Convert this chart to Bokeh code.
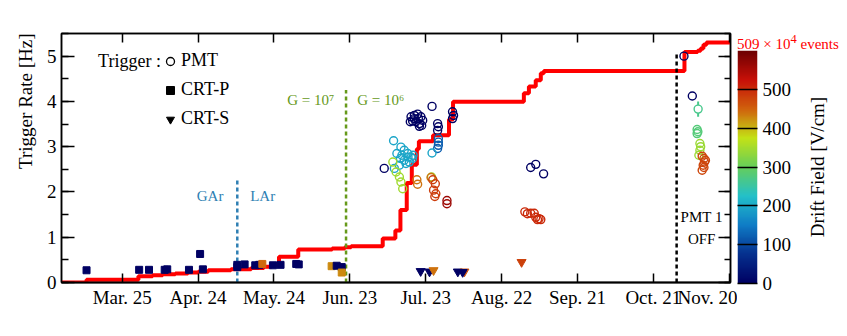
import math
import numpy as np
from bokeh.plotting import figure
from bokeh.layouts import row, column
from bokeh.models import (FixedTicker, SingleIntervalTicker, LinearAxis, LinearColorMapper,
                          ColumnDataSource, Label, Legend, LegendItem, Div,
                          CustomLabelingPolicy)
from bokeh.embed import file_html
from bokeh.resources import INLINE

# ---------------- data ----------------
# x axis: days counted from Mar. 1
tick_days = [24, 54, 84, 114, 144, 174, 204, 234, 264]
tick_labels = ["Mar. 25", "Apr. 24", "May. 24", "Jun. 23", "Jul. 23",
               "Aug. 22", "Sep. 21", "Oct. 21", "Nov. 20"]

# cumulative number of events (scaled onto the rate axis, 509e4 events at the end)
cum_day = [0, 9.9, 30.4, 36, 40, 45, 50, 54, 58, 67, 75, 80, 83, 86, 93.6, 107, 112,
           114.5, 127, 132, 134, 136.5, 138.5, 140.5, 141.3, 146.9, 153.2, 154.8,
           182.8, 184.8, 187.5, 189.5, 190.7, 246.3, 251.5, 252.7, 253.8, 255, 264.5]
cum_val = [0.0, 0.06, 0.14, 0.16, 0.18, 0.20, 0.22, 0.24, 0.27, 0.29, 0.32, 0.35, 0.38,
           0.57, 0.73, 0.75, 0.78, 0.80, 0.97, 1.15, 1.60, 2.20, 2.60, 2.95, 3.12, 3.25,
           3.60, 3.99, 4.18, 4.33, 4.47, 4.62, 4.67, 5.09, 5.12, 5.17, 5.25, 5.30, 5.30]
total_events_label = "509 \u00d7 10<sup>4</sup> events"

# PMT trigger (open circles): day, rate [Hz], drift field [V/cm]
pmt_day = [127.6,
           138.2, 139.5, 140.8, 142.1, 142.8, 141.5, 140.1, 138.8, 137.9, 139.5, 141.1, 142.4, 141.5,
           146.5, 148.7, 149.0, 148.7, 154.6, 155.0, 154.6,
           185.5, 187.5, 190.6, 246.1, 249.4,
           149.0, 149.0, 149.0, 148.7,
           146.5, 131.3, 134.2, 135.5, 136.9, 138.2, 137.5, 135.5, 134.0, 132.6, 131.6, 133.6,
           136.2, 138.8, 134.6, 137.0, 139.0,
           131.0, 132.3, 133.6, 134.2, 134.9, 146.3,
           140.5, 140.8, 146.1,
           146.8, 147.8, 147.1, 148.0, 147.6,
           152.4, 152.4,
           183.2, 184.2, 185.5, 186.9, 187.5, 188.8, 189.5, 188.2,
           251.3, 251.6, 251.3,
           252.4, 252.7, 252.4, 252.0,
           253.3, 254.0, 254.2, 253.7, 253.3, 254.0, 254.6]
pmt_rate = [2.52,
            3.66, 3.69, 3.72, 3.66, 3.58, 3.51, 3.55, 3.57, 3.55, 3.62, 3.62, 3.47, 3.45,
            3.89, 3.51, 3.44, 3.36, 3.77, 3.69, 3.62,
            2.54, 2.61, 2.40, 5.00, 4.12,
            3.18, 3.10, 3.03, 2.96,
            2.86, 3.13, 2.99, 2.92, 2.85, 2.77, 2.66, 2.70, 2.74, 2.85, 2.52, 2.59,
            2.63, 2.74, 2.81, 2.77, 2.81,
            2.66, 2.44, 2.33, 2.22, 2.07, 2.33,
            2.27, 2.17, 2.32,
            2.27, 2.18, 2.04, 1.96, 1.90,
            1.81, 1.74,
            1.56, 1.52, 1.53, 1.53, 1.44, 1.41, 1.39, 1.39,
            3.38, 3.33, 3.29,
            3.07, 3.00, 2.92, 2.81,
            2.79, 2.74, 2.66, 2.59, 2.48, 2.54, 2.70]
pmt_field = [0] * 26 + [120] * 4 + [195] * 17 + [345] * 6 + [440] * 3 + [485] * 5 + \
            [560] * 2 + [500] * 8 + [280] * 3 + [340] * 4 + [475] * 7

# PMT point drawn with its error bar
perr_day = [251.7]
perr_rate = [3.83]
perr_err = [0.17]
perr_field = [265]

# CRT-P trigger (filled squares)
crtp_day = [9.9, 30.7, 34.6, 40.8, 41.8, 50.4, 54.8, 55.9, 69.5, 69.5, 72.4, 76.6, 78.2,
            79.4, 83.6, 86.6, 92.8, 93.8, 106.8, 108.8, 110.8, 110.8]
crtp_rate = [0.27, 0.28, 0.28, 0.28, 0.29, 0.28, 0.63, 0.29, 0.39, 0.34, 0.40, 0.38, 0.39,
             0.41, 0.38, 0.39, 0.41, 0.40, 0.36, 0.37, 0.34, 0.22]
crtp_field = [0, 0, 0, 0, 0, 0, 0, 0, 0, 0, 0, 0, 0,
              445, 0, 0, 0, 0, 425, 0, 0, 425]

# CRT-S trigger (filled inverted triangles)
crts_day = [142.0, 145.5, 147.1, 156.7, 159.3, 158.6, 181.9]
crts_rate = [0.25, 0.24, 0.27, 0.24, 0.24, 0.23, 0.45]
crts_field = [0, 0, 440, 0, 460, 0, 480]

# dashed markers of detector changes
event_day = [69.5, 112.5, 243.2]
event_top = [2.28, 4.25, 5.08]
event_color = ["#2e7fb3", "#66991a", "black"]

cbar_ticks = [0, 100, 200, 300, 400, 500]
field_max = 600

# ---------------- palette (ROOT rainbow) ----------------
stops_r = [0, 5, 15, 35, 102, 196, 208, 199, 110]
stops_g = [0, 48, 124, 192, 206, 226, 97, 16, 0]
stops_b = [99, 142, 198, 201, 90, 22, 13, 8, 2]
sp = np.linspace(0, 1, len(stops_r))
tt = np.linspace(0, 1, 256)
palette = ["#%02x%02x%02x" % (int(round(r)), int(round(g)), int(round(b)))
           for r, g, b in zip(np.interp(tt, sp, stops_r), np.interp(tt, sp, stops_g),
                              np.interp(tt, sp, stops_b))]
mapper = LinearColorMapper(palette=palette, low=0, high=field_max)

FONT = "Liberation Serif"
no_labels = CustomLabelingPolicy(code="return new Set()")

p = figure(width=737, height=328, x_range=(0, 264.5), y_range=(0, 5.5),
           output_backend="svg", toolbar_location=None,
           min_border_left=60, min_border_right=7, min_border_top=33, min_border_bottom=46)
p.xgrid.visible = False
p.ygrid.visible = False
p.outline_line_color = "black"
p.outline_line_width = 1.5
p.background_fill_color = "white"
p.border_fill_color = "white"

# axes
xa = p.xaxis[0]
xa.ticker = FixedTicker(ticks=tick_days)
xa.major_label_overrides = {d: l for d, l in zip(tick_days, tick_labels)}
xa.major_tick_in = 9
xa.major_tick_out = 0
xa.minor_tick_line_color = None
xa.axis_line_width = 2
xa.major_tick_line_width = 1.5
xa.major_label_text_font = FONT
xa.major_label_text_font_size = "19px"
xa.major_label_text_color = "black"
xa.major_label_standoff = 4

ya = p.yaxis[0]
ya.ticker = SingleIntervalTicker(interval=1, num_minor_ticks=2)
ya.major_tick_in = 13
ya.major_tick_out = 0
ya.minor_tick_in = 7
ya.minor_tick_out = 0
ya.axis_line_width = 1.5
ya.major_tick_line_width = 1.5
ya.minor_tick_line_width = 1.5
ya.major_label_text_font = FONT
ya.major_label_text_font_size = "19px"
ya.major_label_text_color = "black"
ya.major_label_standoff = 5
ya.axis_label = "Trigger Rate [Hz]"
ya.axis_label_text_font = FONT
ya.axis_label_text_font_size = "19px"
ya.axis_label_text_font_style = "normal"
ya.axis_label_text_color = "black"
ya.axis_label_standoff = 19
ya.axis_label_align = "end"
ya.axis_label_orientation = math.pi / 2
ya.axis_label_text_align = "right"

top = LinearAxis(ticker=FixedTicker(ticks=tick_days), major_tick_in=9, major_tick_out=0,
                 minor_tick_line_color=None, major_label_text_font_size="0px",
                 major_label_policy=no_labels,
                 axis_line_width=1.5, major_tick_line_width=1.5, major_label_standoff=0)
p.add_layout(top, "above")
right = LinearAxis(ticker=SingleIntervalTicker(interval=1, num_minor_ticks=2),
                   major_tick_in=12, major_tick_out=0, minor_tick_in=6, minor_tick_out=0,
                   major_label_text_font_size="0px", major_label_policy=no_labels,
                   axis_line_width=1.5,
                   major_tick_line_width=1.5, minor_tick_line_width=1.5, major_label_standoff=0)
p.add_layout(right, "right")

# cumulative events
p.step(cum_day, cum_val, mode="after", line_color="red", line_width=4)

# dashed vertical markers
p.segment(x0=event_day, y0=[0] * len(event_day), x1=event_day, y1=event_top,
          line_color=event_color, line_width=2.5, line_dash="4 3")

# data points
src_pmt = ColumnDataSource(dict(x=pmt_day, y=pmt_rate, f=pmt_field))
src_crtp = ColumnDataSource(dict(x=crtp_day, y=crtp_rate, f=crtp_field))
src_crts = ColumnDataSource(dict(x=crts_day, y=crts_rate, f=crts_field))
src_err = ColumnDataSource(dict(x=perr_day, y=perr_rate, f=perr_field,
                                lo=[r - e for r, e in zip(perr_rate, perr_err)],
                                hi=[r + e for r, e in zip(perr_rate, perr_err)]))
cmap = {"field": "f", "transform": mapper}
p.scatter("x", "y", source=src_crtp, marker="square", size=7, fill_color=cmap, line_color=cmap)
p.scatter("x", "y", source=src_crts, marker="inverted_triangle", size=9,
          fill_color=cmap, line_color=cmap)
p.scatter("x", "y", source=src_pmt, marker="circle", size=8, fill_color=None,
          line_color=cmap, line_width=1.4)
p.segment(x0="x", y0="lo", x1="x", y1="hi", source=src_err, line_color=cmap, line_width=2)
p.scatter("x", "y", source=src_err, marker="circle", size=8, fill_color="white",
          line_color=cmap, line_width=1.4)

# legend (black symbols; proxy renderers are hidden)
l_pmt = p.scatter("x", "y", source=src_pmt, marker="circle", fill_color=None,
                  line_color="black", line_width=1.3, visible=False)
l_crtp = p.scatter("x", "y", source=src_crtp, marker="square", fill_color="black",
                   line_color="black", visible=False)
l_crts = p.scatter("x", "y", source=src_crts, marker="inverted_triangle",
                   fill_color="black", line_color="black", visible=False)
leg = Legend(items=[LegendItem(label="PMT", renderers=[l_pmt]),
                    LegendItem(label="CRT-P", renderers=[l_crtp]),
                    LegendItem(label="CRT-S", renderers=[l_crts])],
             location=(99, 153), glyph_width=20, glyph_height=20, label_height=20,
             spacing=8, padding=0, margin=0, label_standoff=1,
             border_line_color=None, background_fill_alpha=0,
             label_text_font=FONT, label_text_font_size="18px", label_text_color="black")
p.add_layout(leg, "center")


def lab(x, y, text, color="black", size="15px", align="left"):
    p.add_layout(Label(x=x, y=y, text=text, text_color=color, text_font=FONT,
                       text_font_size=size, text_align=align, text_baseline="middle"))


lab(39.3, 4.89, "Trigger :", size="18px", align="right")
lab(64.0, 1.90, "GAr", color="#2e7fb3", align="right")
lab(74.6, 1.90, "LAr", color="#2e7fb3")
lab(107.8, 4.03, "G = 10\u2077", color="#66991a", align="right")
lab(116.9, 4.03, "G = 10\u2076", color="#66991a")
lab(253.1, 1.44, "PMT 1", align="center")
lab(253.1, 0.97, "OFF", align="center")

# ---------------- colour scale: bar + tick labels ----------------
c = figure(width=58, height=278, x_range=(0, 1), y_range=(0, field_max),
           output_backend="svg", toolbar_location=None, y_axis_location="right",
           x_axis_location=None, min_border_left=0, min_border_right=38,
           min_border_top=0, min_border_bottom=45)
c.xgrid.visible = False
c.ygrid.visible = False
c.outline_line_color = None
c.border_fill_color = "white"
c.image(image=[np.linspace(0, field_max, 256).reshape(256, 1)], x=0, y=0, dw=1,
        dh=field_max, color_mapper=mapper)
ca = c.yaxis[0]
ca.ticker = FixedTicker(ticks=cbar_ticks)
ca.axis_line_color = None
ca.major_tick_in = 20
ca.major_tick_out = 0
ca.major_tick_line_color = "black"
ca.major_tick_line_width = 1.5
ca.minor_tick_line_color = None
ca.major_label_text_font = FONT
ca.major_label_text_font_size = "19px"
ca.major_label_text_color = "black"
ca.major_label_standoff = 5

# ---------------- colour scale title (left-axis label of a thin panel) ----------------
d = figure(width=52, height=278, x_range=(0, 1), y_range=(0, field_max),
           output_backend="svg", toolbar_location=None, x_axis_location=None,
           min_border_left=51, min_border_right=0, min_border_top=0, min_border_bottom=45)
d.xgrid.visible = False
d.ygrid.visible = False
d.outline_line_color = None
d.border_fill_color = "white"
d.background_fill_color = "white"
da = d.yaxis[0]
da.ticker = FixedTicker(ticks=[])
da.axis_line_color = None
da.major_tick_line_color = None
da.minor_tick_line_color = None
da.major_label_text_font_size = "0px"
da.major_label_policy = CustomLabelingPolicy(code="return new Set()")
da.axis_label = "Drift Field [V/cm]"
da.axis_label_text_font = FONT
da.axis_label_text_font_size = "19px"
da.axis_label_text_font_style = "normal"
da.axis_label_text_color = "black"
da.axis_label_standoff = 19

head = Div(text='<div style="padding-top:31px; color:red; font-family:\'Liberation Serif\'; '
                'font-size:15px; line-height:17px; white-space:nowrap;">'
                + total_events_label + '</div>',
           width=110, height=50, margin=0)

for fig in (p, c, d):
    if "frame_align" in fig.properties():
        fig.frame_align = False

layout = row(p, column(head, row(c, d, spacing=0), spacing=0), spacing=0)
open("out.html", "w").write(file_html(layout, INLINE))
